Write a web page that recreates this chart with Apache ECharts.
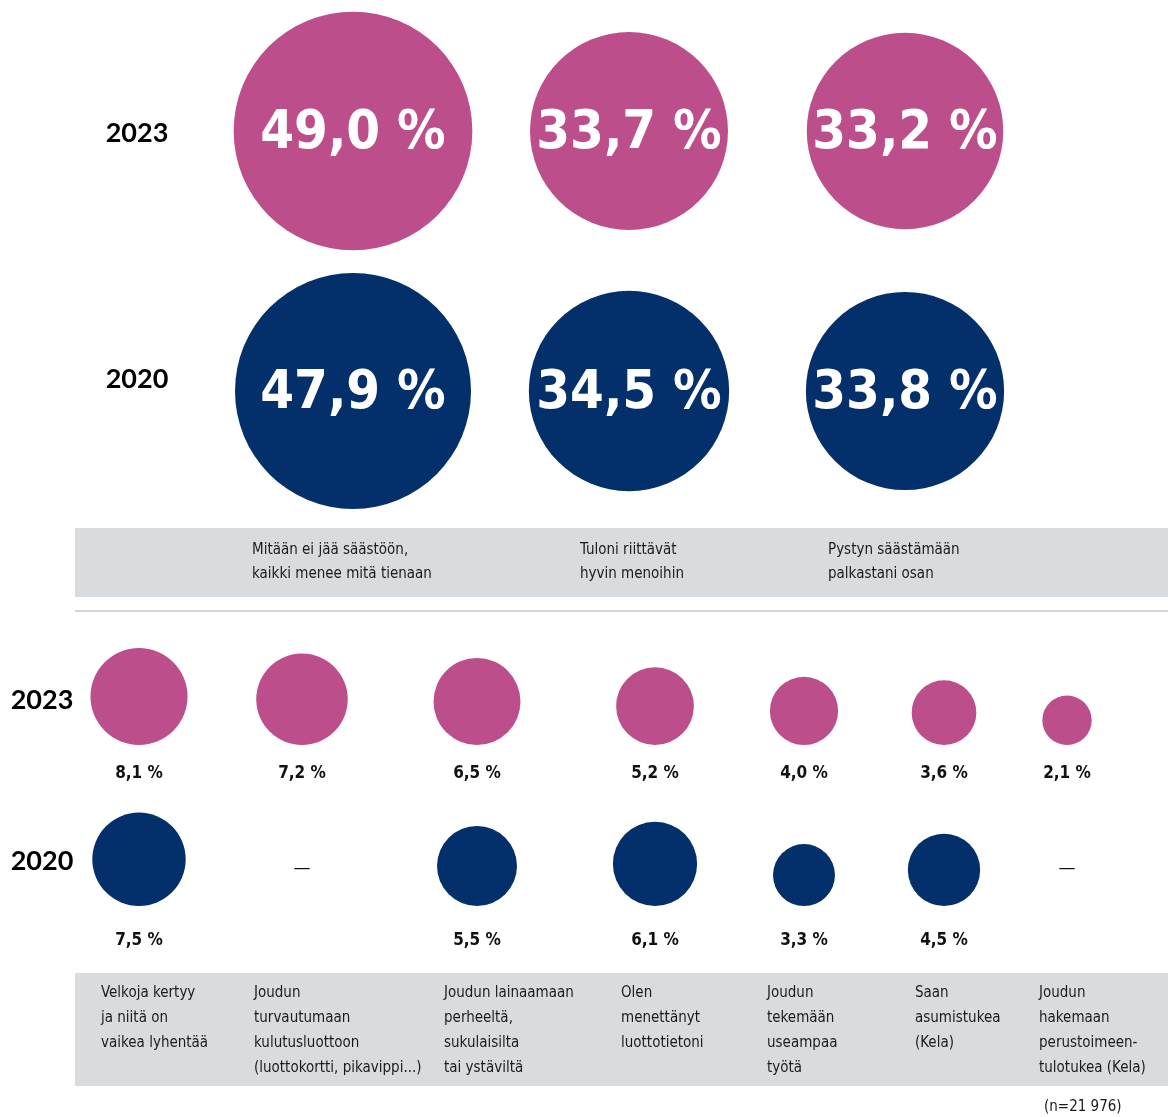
<!DOCTYPE html>
<html>
<head>
<meta charset="utf-8">
<title>Toimeentulo 2020 ja 2023</title>
<script src="https://cdn.jsdelivr.net/npm/echarts@6/dist/echarts.min.js"></script>
<style>
html, body { margin: 0; padding: 0; background: #fff; }
#chart { width: 1168px; height: 1117px; }
</style>
</head>
<body>
<div id="chart"></div>
<script>
// vuodet (rivit)
const years = ['2020', '2023']

// yläosa
const topCategories = [
  'Mitään ei jää säästöön,\nkaikki menee mitä tienaan',
  'Tuloni riittävät\nhyvin menoihin',
  'Pystyn säästämään\npalkastani osan'
]
const top2023 = [49.0, 33.7, 33.2]
const top2020 = [47.9, 34.5, 33.8]

// alaosa (null = ei kysytty 2020)
const bottomCategories = [
  'Velkoja kertyy\nja niitä on\nvaikea lyhentää',
  'Joudun\nturvautumaan\nkulutusluottoon\n(luottokortti, pikavippi...)',
  'Joudun lainaamaan\nperheeltä,\nsukulaisilta\ntai ystäviltä',
  'Olen\nmenettänyt\nluottotietoni',
  'Joudun\ntekemään\nuseampaa\ntyötä',
  'Saan\nasumistukea\n(Kela)',
  'Joudun\nhakemaan\nperustoimeen-\ntulotukea (Kela)'
]
const bottom2023 = [8.1, 7.2, 6.5, 5.2, 4.0, 3.6, 2.1]
const bottom2020 = [7.5, null, 5.5, 6.1, 3.3, 4.5, null]

const sampleNote = '(n=21 976)'

const PINK = '#bc4e8c'
const NAVY = '#032f6b'
const GREY = '#d9dcdf'
const NARROW = "'DejaVu Sans Condensed', 'DejaVu Sans', sans-serif"
const YEARFONT = "Lato, 'Open Sans', sans-serif"
const K = 34.1 // pallon halkaisija = K * sqrt(arvo)

// alaosan sarakkeiden paikat
const colCenters = [139, 302, 477, 655, 804, 944, 1067]
const colTextLeft = [101, 254, 444, 621, 767, 915, 1039]
const topTextLeft = [252, 580, 828]

function fmt(v) {
  return v.toFixed(1).replace('.', ',') + ' %'
}
function size(v) {
  return K * Math.sqrt(v)
}

let grids = [{ left: 215, width: 828, top: 1, height: 520 }]
let xAxes = [{ gridIndex: 0, type: 'category', data: topCategories, show: false }]
let yAxes = [{ gridIndex: 0, type: 'category', data: years, show: false }]
let series = []

// yläosan pallot
;[['2023', top2023, PINK], ['2020', top2020, NAVY]].forEach(([year, vals, color]) => {
  series.push({
    type: 'scatter',
    name: year,
    xAxisIndex: 0,
    yAxisIndex: 0,
    data: vals.map((v, i) => [topCategories[i], year, v]),
    symbolSize: d => size(d[2]),
    itemStyle: { color: color, opacity: 1 },
    label: {
      show: true,
      position: 'inside',
      offset: [0, 3],
      formatter: p => fmt(p.value[2]),
      color: '#fff',
      fontSize: 54,
      fontWeight: 'bold',
      fontFamily: NARROW
    },
    emphasis: { disabled: true }
  })
})

// alaosan sarakkeet, kukin omaan gridiin
bottomCategories.forEach((cat, i) => {
  const g = i + 1
  grids.push({ left: colCenters[i] - 50, width: 100, top: 664.5, height: 322 })
  xAxes.push({ gridIndex: g, type: 'category', data: [cat], show: false })
  yAxes.push({ gridIndex: g, type: 'category', data: years, show: false })

  ;[['2023', bottom2023[i], PINK, 20], ['2020', bottom2020[i], NAVY, 26]].forEach(([year, v, color, dist]) => {
    let item = { value: [cat, year, v == null ? 0 : v] }
    if (v == null) {
      item.symbolSize = 1
      item.itemStyle = { color: 'rgba(0,0,0,0)' }
      item.label = {
        position: 'inside',
        offset: [0, -37],
        formatter: '—',
        fontWeight: 'normal',
        fontSize: 17,
        fontFamily: 'DejaVu Sans'
      }
    }
    series.push({
      type: 'scatter',
      name: year,
      xAxisIndex: g,
      yAxisIndex: g,
      data: [item],
      symbolSize: d => size(d[2]),
      symbolOffset: [0, '-50%'],
      itemStyle: { color: color, opacity: 1 },
      label: {
        show: true,
        position: 'bottom',
        distance: dist,
        formatter: p => fmt(p.value[2]),
        color: '#111',
        fontSize: 17,
        fontWeight: 'bold',
        fontFamily: NARROW
      },
      emphasis: { disabled: true }
    })
  })
})

// tekstit ja taustat
let graphic = [
  { type: 'rect', shape: { x: 75, y: 528, width: 1093, height: 69 }, style: { fill: GREY }, z: 0 },
  { type: 'line', shape: { x1: 75, y1: 611, x2: 1168, y2: 611 }, style: { stroke: '#c6c6c6', lineWidth: 1.5 }, z: 0 },
  { type: 'rect', shape: { x: 75, y: 973, width: 1093, height: 113 }, style: { fill: GREY }, z: 0 }
]
topCategories.forEach((t, i) => {
  graphic.push({
    type: 'text', x: topTextLeft[i], y: 538, z: 1,
    style: { text: t, fill: '#1a1a1a', fontSize: 15, fontFamily: NARROW, lineHeight: 24 }
  })
})
bottomCategories.forEach((t, i) => {
  graphic.push({
    type: 'text', x: colTextLeft[i], y: 980.5, z: 1,
    style: { text: t, fill: '#1a1a1a', fontSize: 15, fontFamily: NARROW, lineHeight: 25 }
  })
})
graphic.push({
  type: 'text', x: 1044, y: 1096, z: 1,
  style: { text: sampleNote, fill: '#1a1a1a', fontSize: 15, fontFamily: NARROW, lineHeight: 22 }
})
// vuosiotsikot
;[[years[1], 137, 133], [years[0], 137, 379], [years[1], 42, 700], [years[0], 42, 861]].forEach(([t, x, y]) => {
  graphic.push({
    type: 'text', x: x, y: y, z: 1,
    style: { text: t, fill: '#000', fontSize: 27, fontWeight: 'bold', fontFamily: YEARFONT, align: 'center', verticalAlign: 'middle' }
  })
})

const chart = echarts.init(document.getElementById('chart'))
chart.setOption({
  animation: false,
  backgroundColor: '#fff',
  grid: grids,
  xAxis: xAxes,
  yAxis: yAxes,
  series: series,
  graphic: graphic
})
</script>
</body>
</html>
